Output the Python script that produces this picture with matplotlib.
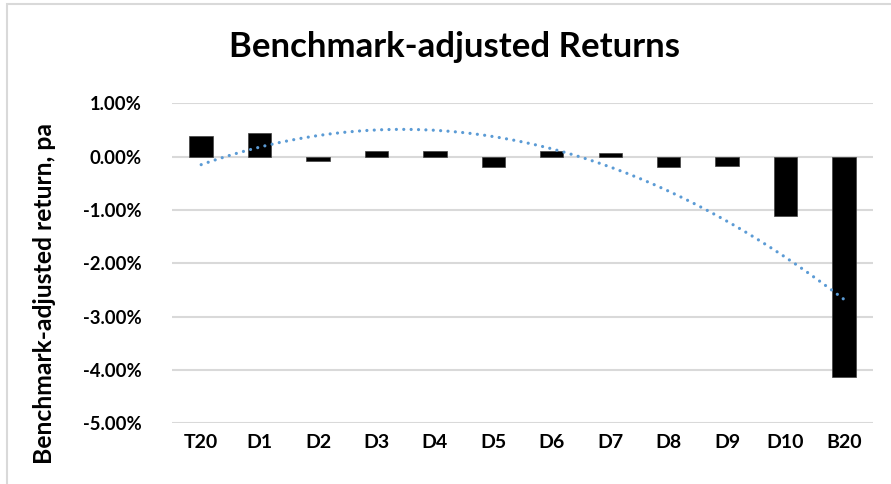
import numpy as np
import matplotlib
matplotlib.use("Agg")
import matplotlib.pyplot as plt
from matplotlib.patches import Rectangle
from matplotlib.ticker import FuncFormatter

categories = ["T20", "D1", "D2", "D3", "D4", "D5", "D6", "D7", "D8", "D9", "D10", "B20"]
returns_pct = [0.39, 0.44, -0.08, 0.10, 0.10, -0.19, 0.10, 0.07, -0.19, -0.17, -1.11, -4.14]
y_ticks = [1, 0, -1, -2, -3, -4, -5]

title = "Benchmark-adjusted Returns"
ylabel = "Benchmark-adjusted return, pa"

FONT = ["Lato", "DejaVu Sans"]
plt.rcParams["font.family"] = FONT

fig = plt.figure(figsize=(8.91, 4.84), dpi=100)
ax = fig.add_axes([0.193, 0.1254, 0.787, 0.6612])

x = np.arange(len(categories))
ax.bar(x, returns_pct, width=0.4, color="black", edgecolor="#404040", linewidth=0.5, zorder=3)

# polynomial (order 2) trendline, as Excel draws it
coef = np.polyfit(x + 1, returns_pct, 2)
xs = np.linspace(0, len(categories) - 1, 200)
ax.plot(xs, np.polyval(coef, xs + 1), color="#5B9BD5", linewidth=2.3,
        linestyle=(0, (0.01, 2.3)), dash_capstyle="round", zorder=4)

ax.set_xlim(-0.5, len(categories) - 0.5)
ax.set_ylim(-5, 1)
ax.set_yticks(y_ticks)
ax.yaxis.set_major_formatter(FuncFormatter(lambda v, p: f"{v:.2f}%"))
ax.set_xticks(x)
ax.set_xticklabels(categories)
ax.grid(axis="y", color="#D9D9D9", linewidth=1.5, zorder=0)
ax.set_axisbelow(True)
for s in ax.spines.values():
    s.set_visible(False)
ax.tick_params(axis="y", length=0, labelsize=13.3, pad=22)
ax.tick_params(axis="x", length=0, labelsize=14, pad=8)
for lab in ax.get_xticklabels() + ax.get_yticklabels():
    lab.set_fontweight("bold")

ax.set_ylabel(ylabel, fontsize=17.8, fontweight="bold")
ax.yaxis.set_label_coords(-0.166, 0.405)
fig.text(0.51, 0.903, title, ha="center", va="center", fontsize=25, fontweight="bold")

fig.patches.append(Rectangle((7 / 891, -0.1), 1.2, 1 - 4 / 484 + 0.1, transform=fig.transFigure,
                             fill=False, edgecolor="#D9D9D9", linewidth=1.5, zorder=0))

fig.savefig("out.png", dpi=100)
